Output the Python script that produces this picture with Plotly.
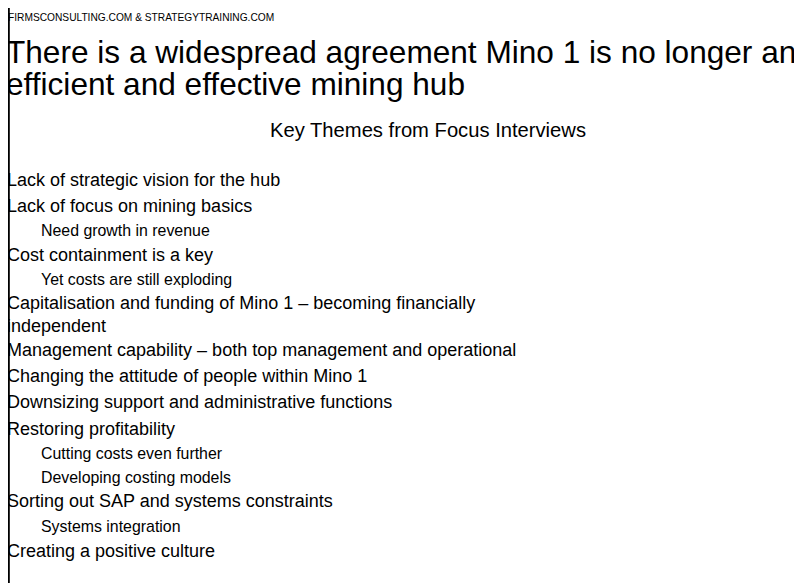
import plotly.graph_objects as go

W, H = 802, 583

header = "FIRMSCONSULTING.COM & STRATEGYTRAINING.COM"
title_lines = ["There is a widespread agreement Mino 1 is no longer an",
               "efficient and effective mining hub"]
subtitle = "Key Themes from Focus Interviews"

items = [
    ("Lack of strategic vision for the hub", 1),
    ("Lack of focus on mining basics", 1),
    ("Need growth in revenue", 2),
    ("Cost containment is a key", 1),
    ("Yet costs are still exploding", 2),
    ("Capitalisation and funding of Mino 1 \u2013 becoming financially<br>independent", 1),
    ("Management capability \u2013 both top management and operational", 1),
    ("Changing the attitude of people within Mino 1", 1),
    ("Downsizing support and administrative functions", 1),
    ("Restoring profitability", 1),
    ("Cutting costs even further", 2),
    ("Developing costing models", 2),
    ("Sorting out SAP and systems constraints", 1),
    ("Systems integration", 2),
    ("Creating a positive culture", 1),
]
item_y = [180, 206, 230, 255, 279, 314, 350, 376, 402, 429, 453, 477, 501, 526, 551]

FONT = "Liberation Sans, Arial, sans-serif"
DX, DY = -10, -8  # compensate for page/annotation padding

def px(x):
    return (x + DX) / W

def py(y):
    return 1 - (y + DY) / H

fig = go.Figure()
ann = []
ann.append(dict(text=header, x=px(9), y=py(17), xanchor="left", yanchor="middle",
                font=dict(size=10.2, color="black")))
for i, t in enumerate(title_lines):
    ann.append(dict(text=t, x=px(7), y=py(52 + i * 32), xanchor="left", yanchor="middle",
                    font=dict(size=31.6, color="black")))
ann.append(dict(text=subtitle, x=px(430), y=py(130), xanchor="center", yanchor="middle",
                font=dict(size=20.2, color="black")))
for (t, lvl), y in zip(items, item_y):
    ann.append(dict(text=t, x=px(8 if lvl == 1 else 42), y=py(y),
                    xanchor="left", yanchor="middle", align="left",
                    font=dict(size=18 if lvl == 1 else 15.9, color="black")))
for a in ann:
    a.update(xref="paper", yref="paper", showarrow=False, borderpad=0)

fig.update_layout(
    width=W, height=H, margin=dict(l=0, r=0, t=0, b=0),
    paper_bgcolor="white", plot_bgcolor="white",
    font=dict(family=FONT),
    xaxis=dict(visible=False, range=[0, 1]), yaxis=dict(visible=False, range=[0, 1]),
    annotations=ann,
    shapes=[dict(type="line", xref="paper", yref="paper", x0=0.001, x1=0.001, y0=0, y1=1,
                 line=dict(color="black", width=2))],
)
fig.write_html("out.html")
